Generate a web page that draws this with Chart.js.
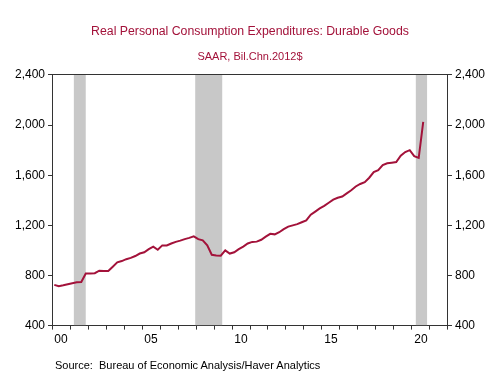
<!DOCTYPE html>
<html>
<head>
<meta charset="utf-8">
<script src="https://cdn.jsdelivr.net/npm/chart.js@4.4.1/dist/chart.umd.min.js"></script>
<style>
  body { margin: 0; background: #fff; }
  #wrap { position: relative; width: 499px; height: 374px; }
  #source {
    position: absolute; left: 55px; top: 359px;
    font: 11px "Liberation Sans", Arial, sans-serif; color: #000;
  }
</style>
</head>
<body>
<div id="wrap">
  <canvas id="chart" width="499" height="374"></canvas>
  <div id="source">Source:&nbsp; Bureau of Economic Analysis/Haver Analytics</div>
</div>
<script>
'use strict';

// Real PCE: durable goods, quarterly, 2000Q1 - 2020Q3 (Bil.Chn.2012$)
var years = [2000, 2001, 2002, 2003, 2004, 2005, 2006, 2007, 2008, 2009, 2010,
             2011, 2012, 2013, 2014, 2015, 2016, 2017, 2018, 2019, 2020];
var durables = [
  725, 715, 722, 730,      // 2000
  738, 745, 748, 815,      // 2001
  815, 818, 838, 835,      // 2002
  835, 870, 905, 915,      // 2003
  930, 940, 955, 975,      // 2004
  985, 1010, 1030, 1005,   // 2005
  1040, 1040, 1055, 1068,  // 2006
  1078, 1090, 1100, 1112,  // 2007
  1090, 1080, 1040, 965,   // 2008
  960, 958, 1000, 975,     // 2009
  985, 1010, 1030, 1055,   // 2010
  1068, 1070, 1085, 1110,  // 2011
  1132, 1128, 1145, 1170,  // 2012
  1190, 1200, 1210, 1225,  // 2013
  1240, 1285, 1310, 1335,  // 2014
  1355, 1380, 1405, 1420,  // 2015
  1430, 1455, 1480, 1510,  // 2016
  1530, 1545, 1580, 1625,  // 2017
  1640, 1680, 1695, 1700,  // 2018
  1705, 1755, 1785, 1800,  // 2019
  1752, 1738, 2025         // 2020
];

// recessions (shaded)
var recessionStart = [2001.2, 2007.95, 2020.2];
var recessionEnd   = [2001.88, 2009.47, 2020.85];

// axis labels
var labelYears = [2000, 2005, 2010, 2015, 2020];
var yearLabels = ['00', '05', '10', '15', '20'];
var yTicks = [400, 800, 1200, 1600, 2000, 2400];

var RED = '#a3123a';
var AXIS = '#333333';
var FONT = '"Liberation Sans", Arial, sans-serif';

// quarterly points at mid-quarter
var points = durables.map(function(v, i) {
  var yr = years[0] + Math.floor(i / 4);
  var q = i % 4;
  return { x: yr + (q + 0.5) / 4, y: v };
});

var datasets = [{
  label: 'Durable Goods',
  data: points,
  borderColor: RED,
  borderWidth: 2,
  pointRadius: 0,
  fill: false,
  tension: 0,
  order: 1
}];

recessionStart.forEach(function(s, i) {
  datasets.push({
    label: 'recession',
    data: [{ x: s, y: yTicks[yTicks.length - 1] }, { x: recessionEnd[i], y: yTicks[yTicks.length - 1] }],
    borderWidth: 0,
    borderColor: 'rgba(0,0,0,0)',
    backgroundColor: '#c8c8c8',
    pointRadius: 0,
    fill: 'start',
    order: 2
  });
});

var yAxis = function(pos) {
  return {
    type: 'linear',
    position: pos,
    min: yTicks[0],
    max: yTicks[yTicks.length - 1],
    afterBuildTicks: function(scale) {
      scale.ticks = yTicks.map(function(v) { return { value: v }; });
    },
    grid: { drawOnChartArea: false, tickLength: 4, color: AXIS },
    border: { display: true, color: AXIS, width: 1 },
    ticks: {
      padding: 3,
      color: '#000',
      font: { family: FONT, size: 12 },
      callback: function(v) { return v.toLocaleString('en-US'); }
    }
  };
};

new Chart(document.getElementById('chart'), {
  type: 'line',
  data: { datasets: datasets },
  options: {
    responsive: false,
    animation: false,
    layout: { padding: { left: 12, right: 11, bottom: 24 } },
    plugins: {
      legend: { display: false },
      tooltip: { enabled: false },
      title: {
        display: true,
        text: 'Real Personal Consumption Expenditures: Durable Goods',
        color: RED,
        font: { family: FONT, size: 12.3, weight: 'normal' },
        padding: { top: 24, bottom: 12 }
      },
      subtitle: {
        display: true,
        text: 'SAAR, Bil.Chn.2012$',
        color: RED,
        font: { family: FONT, size: 11, weight: 'normal' },
        padding: { top: 0, bottom: 3 }
      }
    },
    scales: {
      x: {
        type: 'linear',
        min: 2000,
        max: 2022,
        afterBuildTicks: function(scale) {
          var t = [];
          for (var y = 2000; y <= 2022; y++) t.push({ value: y });
          scale.ticks = t;
        },
        grid: { drawOnChartArea: false, tickLength: 4, color: AXIS },
        border: { display: true, color: AXIS, width: 1 },
        ticks: {
          autoSkip: false,
          maxRotation: 0,
          padding: 3,
          labelOffset: 9,
          color: '#000',
          font: { family: FONT, size: 12 },
          callback: function(v) {
            var k = labelYears.indexOf(v);
            return k >= 0 ? yearLabels[k] : '';
          }
        }
      },
      xTop: {
        type: 'linear',
        position: 'top',
        min: 2000,
        max: 2022,
        grid: { display: false },
        border: { display: true, color: AXIS, width: 1 },
        ticks: { display: false }
      },
      y: yAxis('left'),
      yRight: yAxis('right')
    }
  }
});
</script>
</body>
</html>
